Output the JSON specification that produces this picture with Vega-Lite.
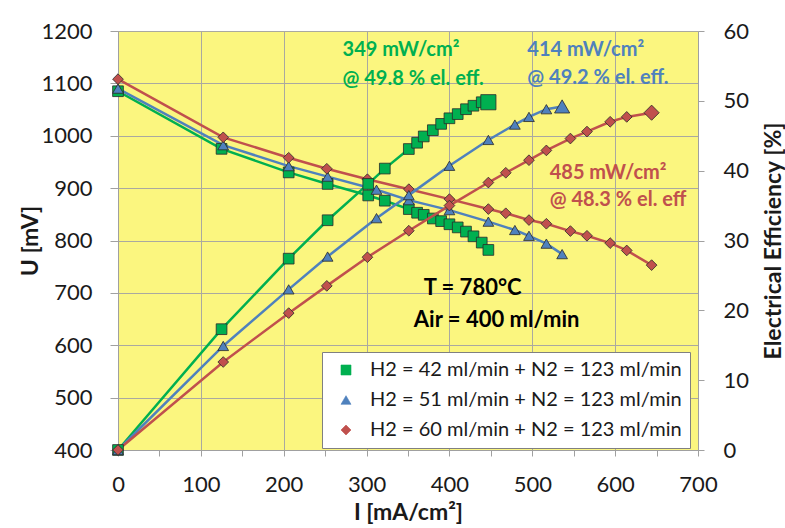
{
  "$schema": "https://vega.github.io/schema/vega-lite/v6.json",
  "width": 580,
  "height": 419,
  "autosize": "none",
  "padding": {"left": 118, "top": 31, "right": 87, "bottom": 78},
  "background": "#ffffff",
  "config": {
    "font": "Lato",
    "view": {"fill": "#fbf67f", "stroke": null},
    "axis": {
      "labelFont": "Lato", "labelFontSize": 22, "labelColor": "#1a1a1a",
      "titleFont": "Lato", "titleFontSize": 23, "titleFontWeight": "bold", "titleColor": "#1a1a1a",
      "domainColor": "#a0a0a0", "tickColor": "#a0a0a0", "gridColor": "#aaa9a0", "gridWidth": 1
    }
  },
  "datasets": {
    "iv": [
      {"series": "H2 = 42 ml/min + N2 = 123 ml/min", "I": 0, "U": 1085, "Eff": 0},
      {"series": "H2 = 42 ml/min + N2 = 123 ml/min", "I": 125, "U": 975, "Eff": 17.3},
      {"series": "H2 = 42 ml/min + N2 = 123 ml/min", "I": 206, "U": 930, "Eff": 27.4},
      {"series": "H2 = 42 ml/min + N2 = 123 ml/min", "I": 253, "U": 908, "Eff": 32.9},
      {"series": "H2 = 42 ml/min + N2 = 123 ml/min", "I": 302, "U": 886, "Eff": 38.1},
      {"series": "H2 = 42 ml/min + N2 = 123 ml/min", "I": 322, "U": 876, "Eff": 40.3},
      {"series": "H2 = 42 ml/min + N2 = 123 ml/min", "I": 351, "U": 860, "Eff": 43.1},
      {"series": "H2 = 42 ml/min + N2 = 123 ml/min", "I": 361, "U": 853, "Eff": 44.0},
      {"series": "H2 = 42 ml/min + N2 = 123 ml/min", "I": 369, "U": 849, "Eff": 44.9},
      {"series": "H2 = 42 ml/min + N2 = 123 ml/min", "I": 380, "U": 842, "Eff": 45.8},
      {"series": "H2 = 42 ml/min + N2 = 123 ml/min", "I": 390, "U": 837, "Eff": 46.7},
      {"series": "H2 = 42 ml/min + N2 = 123 ml/min", "I": 400, "U": 831, "Eff": 47.5},
      {"series": "H2 = 42 ml/min + N2 = 123 ml/min", "I": 410, "U": 825, "Eff": 48.1},
      {"series": "H2 = 42 ml/min + N2 = 123 ml/min", "I": 420, "U": 817, "Eff": 48.8},
      {"series": "H2 = 42 ml/min + N2 = 123 ml/min", "I": 429, "U": 808, "Eff": 49.3},
      {"series": "H2 = 42 ml/min + N2 = 123 ml/min", "I": 439, "U": 796, "Eff": 49.8},
      {"series": "H2 = 42 ml/min + N2 = 123 ml/min", "I": 447, "U": 782, "Eff": 49.8},
      {"series": "H2 = 51 ml/min + N2 = 123 ml/min", "I": 0, "U": 1090, "Eff": 0},
      {"series": "H2 = 51 ml/min + N2 = 123 ml/min", "I": 127, "U": 982, "Eff": 14.9},
      {"series": "H2 = 51 ml/min + N2 = 123 ml/min", "I": 206, "U": 942, "Eff": 23.0},
      {"series": "H2 = 51 ml/min + N2 = 123 ml/min", "I": 253, "U": 922, "Eff": 27.7},
      {"series": "H2 = 51 ml/min + N2 = 123 ml/min", "I": 312, "U": 897, "Eff": 33.2},
      {"series": "H2 = 51 ml/min + N2 = 123 ml/min", "I": 351, "U": 877, "Eff": 36.5},
      {"series": "H2 = 51 ml/min + N2 = 123 ml/min", "I": 400, "U": 858, "Eff": 40.7},
      {"series": "H2 = 51 ml/min + N2 = 123 ml/min", "I": 447, "U": 836, "Eff": 44.4},
      {"series": "H2 = 51 ml/min + N2 = 123 ml/min", "I": 479, "U": 820, "Eff": 46.6},
      {"series": "H2 = 51 ml/min + N2 = 123 ml/min", "I": 496, "U": 809, "Eff": 47.7},
      {"series": "H2 = 51 ml/min + N2 = 123 ml/min", "I": 517, "U": 794, "Eff": 48.8},
      {"series": "H2 = 51 ml/min + N2 = 123 ml/min", "I": 536, "U": 774, "Eff": 49.2},
      {"series": "H2 = 60 ml/min + N2 = 123 ml/min", "I": 0, "U": 1108, "Eff": 0},
      {"series": "H2 = 60 ml/min + N2 = 123 ml/min", "I": 127, "U": 997, "Eff": 12.6},
      {"series": "H2 = 60 ml/min + N2 = 123 ml/min", "I": 206, "U": 958, "Eff": 19.6},
      {"series": "H2 = 60 ml/min + N2 = 123 ml/min", "I": 252, "U": 937, "Eff": 23.5},
      {"series": "H2 = 60 ml/min + N2 = 123 ml/min", "I": 301, "U": 917, "Eff": 27.6},
      {"series": "H2 = 60 ml/min + N2 = 123 ml/min", "I": 351, "U": 898, "Eff": 31.4},
      {"series": "H2 = 60 ml/min + N2 = 123 ml/min", "I": 400, "U": 879, "Eff": 35.0},
      {"series": "H2 = 60 ml/min + N2 = 123 ml/min", "I": 447, "U": 860, "Eff": 38.3},
      {"series": "H2 = 60 ml/min + N2 = 123 ml/min", "I": 468, "U": 852, "Eff": 39.7},
      {"series": "H2 = 60 ml/min + N2 = 123 ml/min", "I": 496, "U": 839, "Eff": 41.5},
      {"series": "H2 = 60 ml/min + N2 = 123 ml/min", "I": 517, "U": 832, "Eff": 42.9},
      {"series": "H2 = 60 ml/min + N2 = 123 ml/min", "I": 546, "U": 818, "Eff": 44.6},
      {"series": "H2 = 60 ml/min + N2 = 123 ml/min", "I": 566, "U": 809, "Eff": 45.6},
      {"series": "H2 = 60 ml/min + N2 = 123 ml/min", "I": 594, "U": 795, "Eff": 47.0},
      {"series": "H2 = 60 ml/min + N2 = 123 ml/min", "I": 614, "U": 781, "Eff": 47.7},
      {"series": "H2 = 60 ml/min + N2 = 123 ml/min", "I": 644, "U": 753, "Eff": 48.3}
    ],
    "notes": [
      {"series": "H2 = 42 ml/min + N2 = 123 ml/min", "I": 271, "U": 1164, "text": "349 mW/cm²"},
      {"series": "H2 = 42 ml/min + N2 = 123 ml/min", "I": 271, "U": 1108, "text": "@ 49.8 % el. eff."},
      {"series": "H2 = 51 ml/min + N2 = 123 ml/min", "I": 494, "U": 1164, "text": "414 mW/cm²"},
      {"series": "H2 = 51 ml/min + N2 = 123 ml/min", "I": 494, "U": 1110, "text": "@ 49.2 % el. eff."},
      {"series": "H2 = 60 ml/min + N2 = 123 ml/min", "I": 521, "U": 929, "text": "485 mW/cm²"},
      {"series": "H2 = 60 ml/min + N2 = 123 ml/min", "I": 521, "U": 877, "text": "@ 48.3 % el. eff"}
    ],
    "conditions": [
      {"I": 428, "U": 709, "text": "T = 780°C"},
      {"I": 457, "U": 648, "text": "Air = 400 ml/min"}
    ]
  },
  "encoding": {
    "x": {
      "field": "I", "type": "quantitative",
      "scale": {"domain": [0, 700], "nice": false, "zero": false},
      "axis": {
        "title": "I [mA/cm²]",
        "values": [0, 50, 100, 150, 200, 250, 300, 350, 400, 450, 500, 550, 600, 650, 700],
        "labelExpr": "datum.value % 100 === 0 ? datum.label : ''",
        "labelOverlap": false, "labelFlush": false,
        "grid": true,
        "gridOpacity": {"condition": {"test": "datum.value % 100 === 0", "value": 1}, "value": 0},
        "tickSize": 6, "labelPadding": 18, "titlePadding": 6
      }
    }
  },
  "layer": [
    {
      "encoding": {
        "y": {
          "field": "U", "type": "quantitative",
          "scale": {"domain": [400, 1200], "nice": false, "zero": false},
          "axis": {
            "title": "U [mV]", "orient": "left", "format": "d",
            "values": [400, 500, 600, 700, 800, 900, 1000, 1100, 1200],
            "grid": true, "tickSize": 8, "labelPadding": 18,
            "titleX": -88, "titleY": 209.5, "titleAngle": 270, "titleAlign": "center", "titleBaseline": "middle"
          }
        }
      },
      "layer": [
        {
          "data": {"name": "iv"},
          "mark": {"type": "line", "strokeWidth": 2.5},
          "encoding": {
            "color": {"field": "series", "type": "nominal",
              "scale": {"domain": ["H2 = 42 ml/min + N2 = 123 ml/min", "H2 = 51 ml/min + N2 = 123 ml/min", "H2 = 60 ml/min + N2 = 123 ml/min"],
                        "range": ["#00b050", "#4f81bd", "#c0504d"]}}
          }
        },
        {
          "data": {"name": "iv"},
          "mark": {"type": "point", "filled": true, "opacity": 1, "stroke": "#2a2a2a", "strokeWidth": 0.8, "size": 115},
          "encoding": {
            "color": {"field": "series", "type": "nominal",
              "legend": {"title": null, "orient": "none", "legendX": 204, "legendY": 321,
                "fillColor": "#ffffff", "strokeColor": "#808080", "padding": 8,
                "labelFont": "Lato", "labelFontSize": 20, "labelColor": "#1a1a1a", "labelLimit": 500,
                "rowPadding": 10, "symbolSize": 100, "symbolOffset": 6, "labelOffset": 14,
                "symbolStrokeColor": "#2a2a2a", "symbolStrokeWidth": 0.6}},
            "shape": {"field": "series", "type": "nominal",
              "scale": {"domain": ["H2 = 42 ml/min + N2 = 123 ml/min", "H2 = 51 ml/min + N2 = 123 ml/min", "H2 = 60 ml/min + N2 = 123 ml/min"],
                        "range": ["square", "triangle-up", "diamond"]},
              "legend": {"title": null, "orient": "none", "legendX": 204, "legendY": 321,
                "fillColor": "#ffffff", "strokeColor": "#808080", "padding": 8,
                "labelFont": "Lato", "labelFontSize": 20, "labelColor": "#1a1a1a", "labelLimit": 500,
                "rowPadding": 10, "symbolSize": 100, "symbolOffset": 6, "labelOffset": 14,
                "symbolStrokeColor": "#2a2a2a", "symbolStrokeWidth": 0.6}}
          }
        },
        {
          "data": {"name": "notes"},
          "mark": {"type": "text", "align": "left", "baseline": "middle", "fontSize": 20, "fontWeight": "bold", "font": "Lato"},
          "encoding": {
            "y": {"field": "U", "type": "quantitative"},
            "text": {"field": "text"},
            "color": {"field": "series", "type": "nominal"}
          }
        },
        {
          "data": {"name": "conditions"},
          "mark": {"type": "text", "align": "center", "baseline": "middle", "fontSize": 22, "fontWeight": "bold", "font": "Lato", "color": "#000000"},
          "encoding": {
            "y": {"field": "U", "type": "quantitative"},
            "text": {"field": "text"}
          }
        }
      ]
    },
    {
      "encoding": {
        "y": {
          "field": "Eff", "type": "quantitative",
          "scale": {"domain": [0, 60], "nice": false, "zero": false},
          "axis": {
            "title": "Electrical Efficiency [%]", "orient": "right",
            "values": [0, 10, 20, 30, 40, 50, 60],
            "grid": false, "tickSize": 6, "labelPadding": 19,
            "titleX": 75, "titleY": 209.5, "titleAngle": 270, "titleAlign": "center", "titleBaseline": "middle"
          }
        }
      },
      "layer": [
        {
          "data": {"name": "iv"},
          "mark": {"type": "line", "strokeWidth": 2.5},
          "encoding": {"color": {"field": "series", "type": "nominal"}}
        },
        {
          "data": {"name": "iv"},
          "mark": {"type": "point", "filled": true, "opacity": 1, "stroke": "#2a2a2a", "strokeWidth": 0.8, "size": 115},
          "encoding": {
            "color": {"field": "series", "type": "nominal"},
            "shape": {"field": "series", "type": "nominal"}
          }
        },
        {
          "data": {"name": "iv"},
          "transform": [
            {"joinaggregate": [{"op": "max", "field": "I", "as": "maxI"}], "groupby": ["series"]},
            {"filter": "datum.I === datum.maxI"}
          ],
          "mark": {"type": "point", "filled": true, "opacity": 1, "stroke": "#2a2a2a", "strokeWidth": 0.8, "size": 230},
          "encoding": {
            "color": {"field": "series", "type": "nominal"},
            "shape": {"field": "series", "type": "nominal"}
          }
        }
      ]
    }
  ],
  "resolve": {"scale": {"y": "independent"}}
}
